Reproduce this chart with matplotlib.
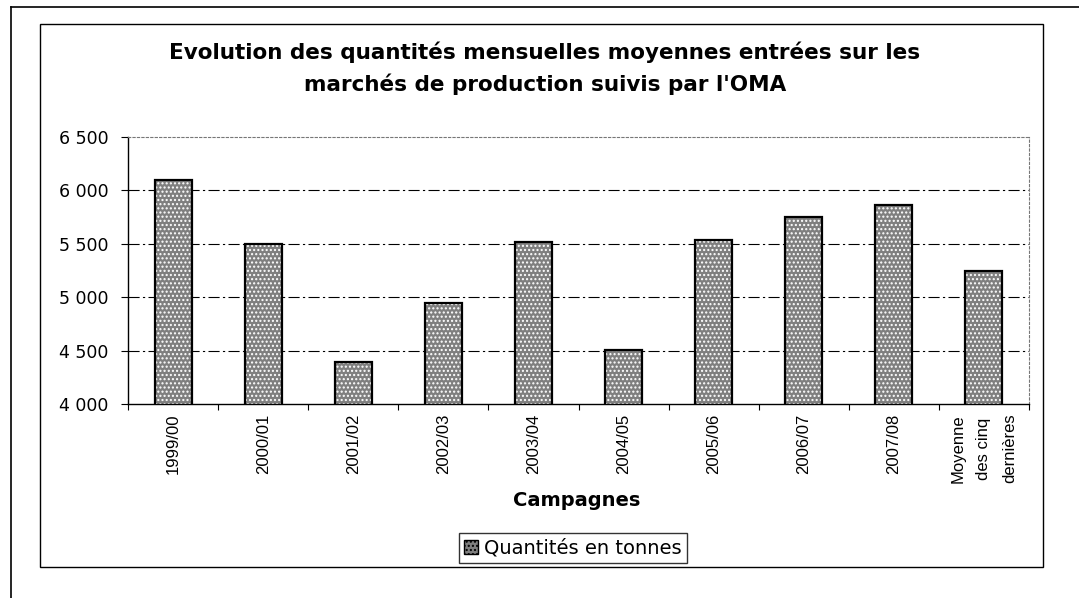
import numpy as np
import matplotlib
matplotlib.use("Agg")
import matplotlib.pyplot as plt
from matplotlib.patches import Rectangle, Patch
from matplotlib.lines import Line2D

plt.rcParams['font.family'] = ['DejaVu Sans']

campagnes = ["1999/00", "2000/01", "2001/02", "2002/03", "2003/04", "2004/05",
             "2005/06", "2006/07", "2007/08", "Moyenne\ndes cinq\ndernières"]
quantites = [6100, 5500, 4390, 4945, 5515, 4505, 5535, 5750, 5865, 5245]
yticks = [4000, 4500, 5000, 5500, 6000, 6500]
ytick_labels = ["4 000", "4 500", "5 000", "5 500", "6 000", "6 500"]

fig = plt.figure(figsize=(10.79, 5.98), dpi=100)
ax = fig.add_axes([128/1079, 1-404/598, (1029-128)/1079, (404-137)/598])

x = np.arange(len(campagnes))
# stippled grey bars, then a black outline on top
ax.bar(x, quantites, width=0.41, bottom=0, color="#7f7f7f", edgecolor="white",
       hatch="....", linewidth=0, zorder=2)
ax.bar(x, quantites, width=0.41, bottom=0, fill=False, edgecolor="black",
       linewidth=1.6, zorder=3)

ax.set_ylim(4000, 6500)
ax.set_xlim(-0.5, len(campagnes) - 0.5)
ax.set_yticks(yticks)
ax.set_yticklabels(ytick_labels, fontsize=12.5)
ax.tick_params(axis="y", direction="out", length=5, width=0.8, pad=9)

ax.set_xticks(x)
ax.set_xticklabels(campagnes, rotation=90, fontsize=12, linespacing=1.9,
                   va="top", ha="center", family="Liberation Sans")
ax.tick_params(axis="x", which="major", length=0, pad=7)
ax.set_xticks(np.arange(len(campagnes) + 1) - 0.5, minor=True)
ax.tick_params(axis="x", which="minor", direction="out", length=4, width=0.8)

for v in [4500, 5000, 5500, 6000]:
    ax.axhline(v, color="black", linewidth=0.8, linestyle=(0, (10, 3, 2, 3)), zorder=1)

ax.spines["left"].set_linewidth(1.0)
ax.spines["bottom"].set_linewidth(1.0)
for side in ["top", "right"]:
    ax.spines[side].set_color("#777777")
    ax.spines[side].set_linestyle((0, (2, 2)))
    ax.spines[side].set_linewidth(0.8)

fig.text(545/1079, 1-52/598, "Evolution des quantités mensuelles moyennes entrées sur les",
         ha="center", va="center", fontsize=15.5, fontweight="bold")
fig.text(545/1079, 1-84/598, "marchés de production suivis par l'OMA",
         ha="center", va="center", fontsize=15.5, fontweight="bold")
fig.text(577/1079, 1-500/598, "Campagnes", ha="center", va="center",
         fontsize=14, fontweight="bold")

leg = fig.legend(handles=[Patch(facecolor="#7f7f7f", edgecolor="black", hatch="....")],
                 labels=["Quantités en tonnes"], loc="center",
                 bbox_to_anchor=(573/1079, 1-548/598), fontsize=14,
                 frameon=True, fancybox=False, handlelength=0.7, handleheight=0.7,
                 handletextpad=0.3, borderpad=0.3)
leg.get_frame().set_edgecolor("black")
leg.get_frame().set_linewidth(1.0)

# chart area frame and outer page frame
fig.add_artist(Rectangle((40/1079, 1-567/598), (1043-40)/1079, (567-24)/598,
                         transform=fig.transFigure, fill=False, edgecolor="black",
                         linewidth=1.0))
fig.add_artist(Line2D([11/1079, 1.0], [1-7/598, 1-7/598], transform=fig.transFigure,
                      color="black", linewidth=1.2))
fig.add_artist(Line2D([11/1079, 11/1079], [0.0, 1-7/598], transform=fig.transFigure,
                      color="black", linewidth=1.2))

fig.savefig("out.png", dpi=100)
